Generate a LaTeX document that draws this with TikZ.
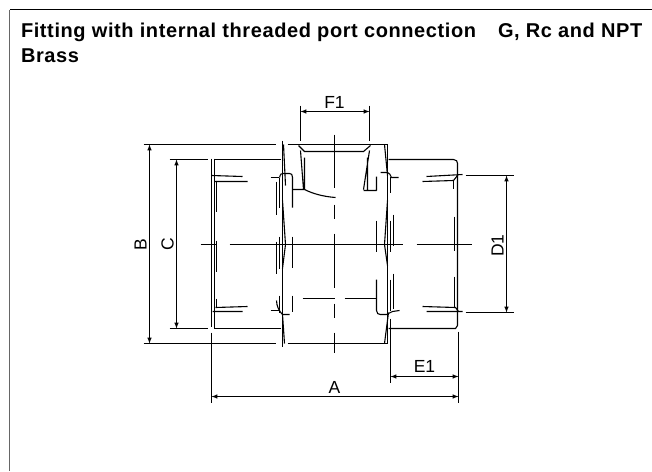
\documentclass[tikz,border=0pt]{standalone}
\usepackage{fontspec}
\setmainfont{Liberation Sans}
\usetikzlibrary{%
  arrows,%
  positioning% wg. " of "
}
\tikzset{
  titletext/.style={anchor=base west,inner sep=0pt,font=\fontsize{20}{22}\bfseries\addfontfeatures{LetterSpace=3}},
  dimlabel/.style={anchor=base,inner sep=0pt,font=\fontsize{17.5}{20}\selectfont},
  dimline/.style={<->,>=latex,line width=1pt},
  extline/.style={line width=1pt},
  outline/.style={line width=1.1pt},
  heavy/.style={line width=1.8pt}
}

\begin{document}
\begin{tikzpicture}[x=1pt,y=-1pt,line width=1pt]
    \useasboundingbox (-0.5,-0.5) rectangle (651.5,470.5);
    %frame
    \coordinate (frame_tl) at (9,9);
    \coordinate (frame_tr) at (651.5,9);
    \coordinate (frame_bl) at (9,470.5);
    \draw[line width=1.2pt] (frame_tr) -- (frame_tl);
    \draw[line width=1.5pt,black!60] (frame_tl) -- (frame_bl);

    %title
    \node[titletext] (title_a) at (20,37) {Fitting with internal threaded port connection};
    \node[titletext] (title_b) at (497,37) {G, Rc and NPT};
    \node[titletext] (title_c) at (20,62) {Brass};

    %dimension labels
    \node[dimlabel] (F1) at (334,108) {F1};
    \node[dimlabel,rotate=90] (B) at (146,244) {B};
    \node[dimlabel,rotate=90] (C) at (173,244) {C};
    \node[dimlabel,rotate=90] (D1) at (503,245) {D1};
    \node[dimlabel] (E1) at (424,372) {E1};
    \node[dimlabel] (A) at (334,393) {A};

    %dimension ends
    \coordinate (f_l) at (300,111);
    \coordinate (f_r) at (369,111);
    \coordinate (b_t) at (149,144);
    \coordinate (b_b) at (149,343);
    \coordinate (c_t) at (176,159);
    \coordinate (c_b) at (176,328);
    \coordinate (d_t) at (506,175);
    \coordinate (d_b) at (506,312);
    \coordinate (e_l) at (390,376);
    \coordinate (e_r) at (458,376);
    \coordinate (a_l) at (211,396);
    \coordinate (a_r) at (458,396);
    \draw[dimline] (f_l) -- (f_r);
    \draw[dimline] (b_t) -- (b_b);
    \draw[dimline] (c_t) -- (c_b);
    \draw[dimline] (d_t) -- (d_b);
    \draw[dimline] (e_l) -- (e_r);
    \draw[dimline] (a_l) -- (a_r);

    %extension lines
    \draw[extline] (300,105) -- (300,140) (369,105) -- (369,140);
    \draw[extline] (143,144) -- (275,144) (169,159) -- (207,159);
    \draw[extline] (143,343) -- (275,343) (169,328) -- (207,328);
    \draw[extline] (465,175) -- (513,175) (465,312) -- (513,312);
    \draw[extline] (211,332) -- (211,402) (458,331) -- (458,402);
    \draw[extline] (390,318) -- (390,382);

    %centre lines
    \draw[extline] (200,244) -- (216,244) (229,244) -- (402,244) (416,244) -- (471,244);
    \draw[extline] (334,134) -- (334,187) (334,204) -- (334,218) (334,233) -- (334,287)
                   (334,303) -- (334,317) (334,332) -- (334,352);
    \draw[extline] (302,298) -- (334,298) (344,298) -- (376,298);

    %body
    \draw[outline] (287,144) -- (387,144) -- (387,312);
    \draw[outline] (287,343) -- (387,343) -- (387,312);
    \draw[outline] (282,140) -- (282,346);
    \draw[outline] (214,159) -- (280,159) (214,328) -- (280,328);
    \draw[outline] (283,144) -- (285,185) (282,200) -- (285,244) -- (282,268) (282,314) -- (284,343);
    \draw[outline] (384,144) -- (387,175) (387,200) -- (384,244) -- (387,265) (388,312) -- (384,343);

    %left end
    \draw[extline] (211,158) -- (211,326) (213.5,158) -- (213.5,328);
    \draw[outline] (211,175) -- (242,176) (214,181) -- (247,181);
    \draw[extline] (216,180) -- (216,211) (216,240) -- (216,271) (216,298) -- (216,307);
    \draw[outline] (212,311) -- (242,311) (215,307) -- (247,306);

    %left shoulder
    \draw[outline] (270,177) -- (278,177) (276,181) -- (276,214) (279,177) -- (279,207);
    \draw[outline] (279,177) .. controls (280,173) and (281,173) .. (283,173) -- (289,173)
                   .. controls (291,173) and (292,174) .. (292,177) -- (292,207);
    \draw[outline] (276,241) -- (276,273) (279,236) -- (279,268) (292,236) -- (292,267);
    \draw[outline] (276,300) .. controls (276,306) and (279,311) .. (282,314) -- (289,314);
    \draw[outline] (270,310) -- (278,310) (279,295) -- (279,312) (292,295) -- (292,311);

    %top port
    \draw[outline] (298,145) -- (304,151) -- (363,151) -- (370,145);
    \draw[outline] (300,150) -- (303,189) (304,157) -- (304,189) (292,189) -- (304,189);
    \draw[outline] (304,189) .. controls (312,193) and (322,196) .. (335,197);
    \draw[outline] (369,150) -- (363,189) (367,157) -- (367,189) (363,190) -- (376,190) (376,176) -- (376,190);

    %right shoulder
    \draw[outline] (380,172) -- (387,172) .. controls (389,173) and (390,174) .. (391,177) -- (398,177);
    \draw[heavy] (390,176) -- (390,192) (390,220) -- (390,251) (390,279) -- (390,310);
    \draw[outline] (393,214) -- (393,245) (393,273) -- (393,308);
    \draw[outline] (376,220) -- (376,251);
    \draw[outline] (376,279) -- (376,310) .. controls (376,313) and (378,314) .. (380,314) -- (386,314) -- (392,311) -- (399,310);

    %right end
    \draw[outline] (388,159) -- (453,159) .. controls (456,159) and (457,161) .. (457,163) -- (457,325) (388,328) -- (455,328) -- (457,325);
    \draw[outline] (426,176) -- (462,174) (422,181) -- (453,180) -- (457,175);
    \draw[outline] (453,180) -- (453,188) (454,216) -- (454,250) (454,276) -- (454,307);
    \draw[outline] (422,306) -- (455,307) -- (458,311) (426,311) -- (462,311);
\end{tikzpicture}
\end{document}
